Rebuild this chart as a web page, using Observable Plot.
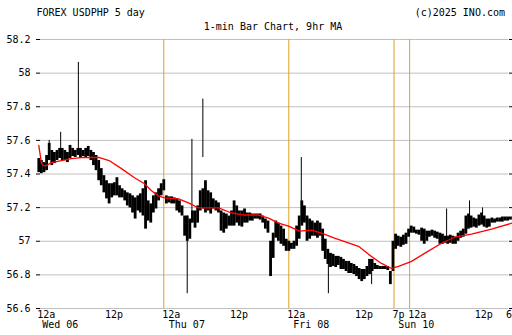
<!DOCTYPE html>
<html><head><meta charset="utf-8">
<script src="https://cdn.jsdelivr.net/npm/d3@7"></script>
<script src="https://cdn.jsdelivr.net/npm/@observablehq/plot@0.6"></script>
<style>body{margin:0;background:#fff;} #chart svg{display:block}</style>
</head><body><div id="chart"></div>
<script>
// time axis in trading hours from Wed 12a; one bar envelope every half hour
const bandHigh = [
57.492,57.48,57.468,57.51,57.582,57.54,57.528,57.54,57.552,57.552,
57.54,57.528,57.57,57.552,57.54,57.552,57.552,57.54,57.552,57.564,
57.54,57.528,57.51,57.48,57.432,57.39,57.36,57.342,57.342,57.348,
57.378,57.33,57.312,57.30,57.288,57.282,57.27,57.258,57.27,57.282,
57.312,57.36,57.24,57.222,57.27,57.288,57.312,57.342,57.366,57.27,
57.264,57.264,57.258,57.252,57.24,57.21,57.15,57.15,57.132,57.18,
57.18,57.21,57.30,57.312,57.36,57.30,57.288,57.252,57.24,57.228,
57.18,57.168,57.162,57.15,57.18,57.24,57.21,57.18,57.18,57.192,
57.168,57.168,57.162,57.162,57.162,57.162,57.15,57.132,57.12,57.00,
57.048,57.12,57.108,57.09,57.072,57.012,57.00,56.988,57.00,57.09,
57.15,57.24,57.21,57.15,57.132,57.12,57.108,57.12,57.108,57.072,
57.012,56.952,56.928,56.922,56.91,56.91,56.904,56.892,56.88,56.88,
56.868,56.862,56.85,56.838,56.832,56.832,56.85,56.892,56.892,56.868,
56.856,56.85,56.85,56.85,56.85,56.82,57.00,57.042,57.03,57.024,
57.036,57.048,57.072,57.09,57.084,57.066,57.066,57.078,57.072,57.06,
57.06,57.066,57.06,57.054,57.048,57.042,57.03,57.03,57.036,57.03,
57.024,57.048,57.06,57.072,57.15,57.162,57.15,57.138,57.132,57.156,
57.168,57.15,57.132,57.132,57.138,57.132,57.138,57.138,57.144,57.144,
57.144,57.144,57.144];
const bandLow = [
57.408,57.402,57.408,57.42,57.48,57.45,57.462,57.48,57.492,57.48,
57.48,57.468,57.492,57.504,57.498,57.51,57.492,57.504,57.498,57.504,
57.48,57.45,57.42,57.36,57.33,57.288,57.252,57.222,57.258,57.27,
57.27,57.258,57.258,57.24,57.21,57.198,57.168,57.132,57.18,57.168,
57.15,57.072,57.12,57.108,57.168,57.192,57.24,57.27,57.30,57.222,
57.228,57.222,57.222,57.18,57.168,57.15,57.03,57.00,57.012,57.108,
57.078,57.108,57.18,57.192,57.168,57.18,57.162,57.192,57.18,57.168,
57.06,57.048,57.072,57.09,57.09,57.09,57.108,57.09,57.084,57.108,
57.108,57.12,57.12,57.132,57.132,57.126,57.108,57.072,57.048,56.79,
56.898,57.018,57.00,56.982,56.97,56.94,56.94,56.952,56.952,56.97,
57.012,57.09,57.108,57.00,57.012,57.03,57.03,57.018,57.03,56.94,
56.892,56.862,56.844,56.85,56.844,56.856,56.832,56.832,56.82,56.808,
56.808,56.802,56.79,56.772,56.76,56.772,56.79,56.802,56.82,56.832,
56.832,56.832,56.832,56.832,56.826,56.742,56.82,56.952,56.97,56.964,
56.976,56.982,57.024,57.048,57.048,57.042,57.036,57.00,56.982,57.00,
57.024,57.03,57.018,57.012,56.982,56.982,56.988,56.982,56.988,56.982,
56.982,57.00,57.018,57.024,57.042,57.072,57.078,57.084,57.078,57.09,
57.096,57.084,57.078,57.084,57.108,57.108,57.114,57.114,57.114,57.12,
57.12,57.126,57.126];

// isolated long bars (spikes)
const spikeT    = [2.0, 4.2, 7.6, 28.5, 29.4, 31.5, 50.4, 55.6, 63.9, 78.3, 82.7, 85.2];
const spikeHigh = [57.60, 57.648, 58.064, 57.15, 57.606, 57.846, 57.498, 56.94, 56.85, 57.192, 57.24, 57.198];
const spikeLow  = [57.51, 57.54, 57.54, 56.688, 57.108, 57.498, 57.12, 56.688, 56.742, 57.00, 57.09, 57.108];

// 9hr moving average
const maT = [0,0.52,0.9,1.48,2.44,4.36,6.28,8.2,10.12,11.66,13.5,15.88,18.38,20.3,21.64,22.99,24.14,26.82,28.74,30.66,34.5,37.0,39.5,42.19,44.11,46.03,47.95,50.06,52.36,54.28,56.78,61.39,63.31,65.8,67.72,69.07,71.56,74.06,77.32,79.82,83.08,86.92,91.1];
const maV = [57.57,57.462,57.45,57.45,57.468,57.48,57.492,57.498,57.498,57.498,57.48,57.432,57.378,57.342,57.30,57.27,57.258,57.252,57.228,57.198,57.198,57.168,57.156,57.156,57.138,57.108,57.09,57.06,57.066,57.048,57.018,56.97,56.922,56.868,56.838,56.85,56.88,56.928,56.988,57.024,57.042,57.072,57.11];

// axes
const yTicks  = [56.6,56.8,57.0,57.2,57.4,57.6,57.8,58.0,58.2];
const yLabels = ["56.6","56.8","57","57.2","57.4","57.6","57.8","58","58.2"];
const vlineT = [24, 48, 68.2, 71.2];
const xTickT = [0, 13, 24, 37, 48, 61, 68.2, 71.2, 84, 90];
const xTickLabel = ["12a","12p","12a","12p","12a","12p","7p","12a","12p","6p"];
const dayT = [0.65, 24.96, 48.85, 69.0];
const dayLabel = ["Wed 06","Thu 07","Fri 08","Sun 10"];

const bars = bandHigh.map((h, i) => ({t: i * 0.5, hi: h, lo: bandLow[i]}));
const spikes = spikeT.map((t, i) => ({t, hi: spikeHigh[i], lo: spikeLow[i]}));
const ma = maT.map((t, i) => ({t, v: maV[i]}));
const xt = xTickT.map((t, i) => ({t, label: xTickLabel[i]}));
const dt = dayT.map((t, i) => ({t, label: dayLabel[i]}));

const font = "'DejaVu Sans Mono', monospace";
const chart = Plot.plot({
  width: 512, height: 335,
  marginTop: 39, marginBottom: 27, marginLeft: 40, marginRight: 4,
  style: {fontFamily: font, fontSize: "10px", color: "#000", background: "#fff"},
  x: {domain: [0.33, 90.18], axis: null},
  y: {domain: [56.6, 58.2], axis: null},
  marks: [
    Plot.ruleY(yTicks, {stroke: "#c0c0c0", strokeWidth: 1}),
    Plot.ruleX(vlineT, {stroke: "#e0a020", strokeWidth: 1}),
    Plot.axisY(yTicks, {anchor: "left", tickSize: 4, tickPadding: 6, fontSize: 10,
      tickFormat: d => yLabels[yTicks.indexOf(d)]}),
    Plot.axisY(yTicks, {anchor: "right", tickSize: 4, tickFormat: () => ""}),
    Plot.ruleX(bars, {x: "t", y1: "lo", y2: "hi", stroke: "#000", strokeWidth: 2.8}),
    Plot.ruleX(spikes, {x: "t", y1: "lo", y2: "hi", stroke: "#000", strokeWidth: 1}),
    Plot.line(ma, {x: "t", y: "v", stroke: "#ff0000", strokeWidth: 1.3}),
    Plot.text(xt, {x: "t", text: "label", frameAnchor: "bottom", textAnchor: "start", dx: -1.5, dy: 9.4, fontSize: 10}),
    Plot.text(dt, {x: "t", text: "label", frameAnchor: "bottom", textAnchor: "start", dy: 19.4, fontSize: 10}),
    Plot.text(["FOREX USDPHP 5 day"], {text: d => d, frameAnchor: "top-left", textAnchor: "start", dx: -4, dy: -30.9, fontSize: 10}),
    Plot.text(["1-min Bar Chart, 9hr MA"], {text: d => d, frameAnchor: "top", textAnchor: "middle", dx: -1.5, dy: -16.7, fontSize: 10}),
    Plot.text(["(c)2025 INO.com"], {text: d => d, frameAnchor: "top-right", textAnchor: "end", dx: -3.5, dy: -30.9, fontSize: 10})
  ]
});
document.getElementById("chart").appendChild(chart);
</script>
</body></html>
